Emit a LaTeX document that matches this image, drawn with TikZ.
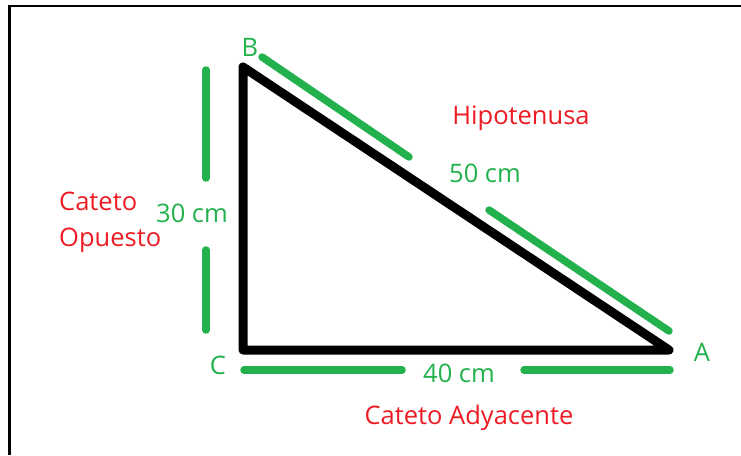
\documentclass[tikz,border=0pt]{standalone}
\usepackage{fontspec}
\setmainfont{Open Sans}
\definecolor{paintred}{RGB}{237,28,36}
\definecolor{paintgreen}{RGB}{34,177,76}
\tikzset{
	triside/.style={line width=9pt,line join=round,line cap=round},
	greenmark/.style={paintgreen,line width=7.5pt,line cap=round},
	sidename/.style={text=paintred,font=\fontsize{25.5}{36}\selectfont,inner sep=0pt,align=left},
	sidelen/.style={text=paintgreen,font=\fontsize{25.5}{36}\selectfont,inner sep=0pt},
}
\begin{document}
\begin{tikzpicture}[x=1pt,y=-1pt]
	\useasboundingbox (0,0) rectangle (741,455);
	\draw[line width=2.5pt] (9.5,455) -- (9.5,6) -- (741,6);
	\coordinate (B) at (243,67);
	\coordinate (C) at (243,350);
	\coordinate (A) at (669,350);
	\draw[triside] (B) -- (C) -- (A) -- cycle;
	% green marks along the sides
	\draw[greenmark] (206,70) -- (206,178);
	\draw[greenmark] (206,250) -- (206,330);
	\draw[greenmark] (244,370) -- (402,370);
	\draw[greenmark] (524,370) -- (670,370);
	\draw[greenmark] (262,57) -- (409,157);
	\draw[greenmark] (489,210) -- (669,331);
	\node[sidelen] (lB) at (250,47) {B};
	\node[sidelen] (lC) at (218,365) {C};
	\node[sidelen] (lA) at (702,352) {A};
	\node[sidelen] (b) at (192,213) {30 cm};
	\node[sidelen] (c) at (485,173) {50 cm};
	\node[sidelen] (a) at (459,373) {40 cm};
	\node[sidename] (hyp) at (521,118) {Hipotenusa};
	\node[sidename,anchor=west] (opp) at (59,222) {Cateto\\Opuesto};
	\node[sidename] (adj) at (469,418) {Cateto Adyacente};
\end{tikzpicture}
\end{document}
